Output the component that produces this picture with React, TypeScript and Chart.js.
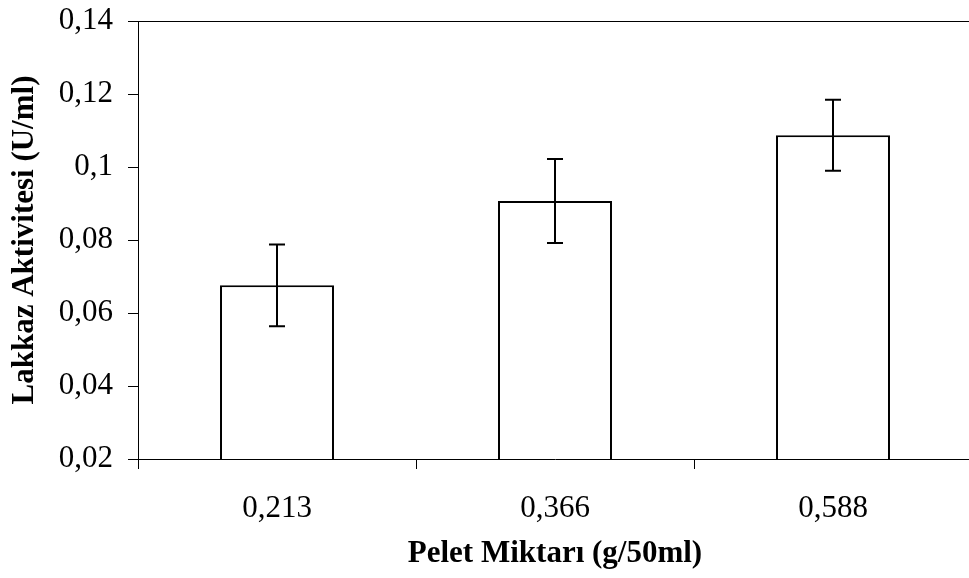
import React, { useEffect, useRef } from "react";
import { Chart, registerables } from "chart.js";

Chart.register(...registerables);

const categories = ["0,213", "0,366", "0,588"];
const values = [0.0676, 0.0907, 0.1087];
const errors = [0.0112, 0.0115, 0.0097];
const yMin = 0.02;
const yMax = 0.14;
const yStep = 0.02;
const xTitle = "Pelet Miktarı (g/50ml)";
const yTitle = "Lakkaz Aktivitesi (U/ml)";

const FONT = "'Liberation Serif', 'Times New Roman', serif";

const errorBarPlugin = {
  id: "errorBars",
  afterDatasetsDraw(chart: any) {
    const meta = chart.getDatasetMeta(0);
    const ys = chart.scales.y;
    const ctx = chart.ctx;
    ctx.save();
    ctx.strokeStyle = "#000";
    ctx.lineWidth = 2;
    meta.data.forEach((bar: any, i: number) => {
      const x = Math.round(bar.x);
      const hi = ys.getPixelForValue(values[i] + errors[i]);
      const lo = ys.getPixelForValue(values[i] - errors[i]);
      ctx.beginPath();
      ctx.moveTo(x, hi);
      ctx.lineTo(x, lo);
      ctx.moveTo(x - 8, hi);
      ctx.lineTo(x + 8, hi);
      ctx.moveTo(x - 8, lo);
      ctx.lineTo(x + 8, lo);
      ctx.stroke();
    });
    ctx.restore();
  },
};

const framePlugin = {
  id: "frame",
  afterDraw(chart: any) {
    const { left, right, top, bottom } = chart.chartArea;
    const ctx = chart.ctx;
    ctx.save();
    ctx.strokeStyle = "#000";
    ctx.lineWidth = 1;
    ctx.beginPath();
    ctx.moveTo(left, Math.round(top) + 0.5);
    ctx.lineTo(right, Math.round(top) + 0.5);
    ctx.lineTo(right, bottom);
    ctx.stroke();
    ctx.restore();
  },
};

export default function App() {
  const ref = useRef<HTMLCanvasElement>(null);

  useEffect(() => {
    if (!ref.current) return;
    const chart = new Chart(ref.current, {
      type: "bar",
      data: {
        labels: categories,
        datasets: [
          {
            data: values,
            backgroundColor: "#ffffff",
            borderColor: "#000000",
            borderWidth: 2,
            barPercentage: 0.41,
            categoryPercentage: 1,
          },
        ],
      },
      options: {
        animation: false,
        responsive: false,
        devicePixelRatio: 1,
        layout: { padding: { top: 21, right: 8, left: 0, bottom: 0 } },
        plugins: {
          legend: { display: false },
          tooltip: { enabled: false },
        },
        scales: {
          x: {
            grid: {
              display: true,
              drawOnChartArea: false,
              color: "#000",
              tickColor: "#000",
              tickLength: 10,
              offset: true,
            },
            border: { display: true, color: "#000", width: 1 },
            ticks: {
              color: "#000",
              font: { family: FONT, size: 31 },
              padding: 21,
              maxRotation: 0,
            },
            title: {
              display: true,
              text: xTitle,
              color: "#000",
              font: { family: FONT, size: 31, weight: "bold" },
              padding: { top: 0, bottom: 5 },
            },
            afterFit(scale: any) {
              scale.height = 119;
              scale.paddingLeft = 0;
              scale.paddingRight = 0;
            },
          },
          y: {
            min: yMin,
            max: yMax,
            grid: {
              display: true,
              drawOnChartArea: false,
              color: "#000",
              tickColor: "#000",
              tickLength: 10,
            },
            border: { display: true, color: "#000", width: 1 },
            ticks: {
              stepSize: yStep,
              color: "#000",
              font: { family: FONT, size: 31 },
              padding: 15,
              callback: (v: any) => String(+Number(v).toFixed(4)).replace(".", ","),
            },
            title: {
              display: true,
              text: yTitle,
              color: "#000",
              font: { family: FONT, size: 31, weight: "bold" },
              padding: { top: 6, bottom: 0 },
            },
            afterFit(scale: any) {
              scale.width = 138;
              scale.paddingTop = 0;
              scale.paddingBottom = 0;
            },
          },
        },
      },
      plugins: [errorBarPlugin, framePlugin],
    });
    return () => chart.destroy();
  }, []);

  return (
    <div
      style={{
        position: "fixed",
        left: 0,
        top: 0,
        width: 969,
        height: 578,
        overflow: "hidden",
        background: "#fff",
      }}
    >
      <canvas ref={ref} width={980} height={578} style={{ width: 980, height: 578, display: "block" }} />
    </div>
  );
}
